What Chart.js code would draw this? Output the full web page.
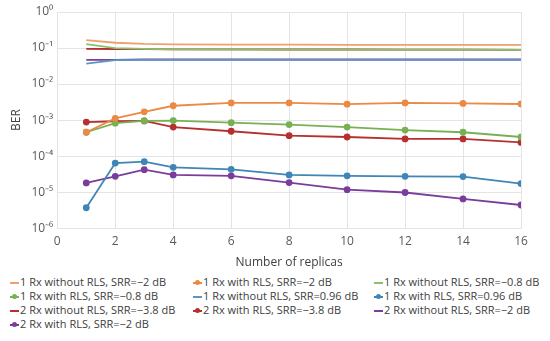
<!DOCTYPE html>
<html>
<head>
<meta charset="utf-8">
<script src="https://cdn.jsdelivr.net/npm/chart.js@4/dist/chart.umd.min.js"></script>
<style>
  html, body { margin: 0; padding: 0; background: #fff; }
  #wrap { position: relative; width: 550px; height: 274px; }
  #legend {
    position: absolute; left: 0; top: 275px; width: 550px;
    font-family: "Open Sans", "Liberation Sans", sans-serif; font-size: 11px; color: #404040;
  }
  .item { position: absolute; white-space: nowrap; height: 14px; line-height: 14px; }
  .sw { position: absolute; left: 0; top: 7px; width: 9px; height: 2px; }
  .dot { position: absolute; left: 2px; top: 5px; width: 5px; height: 5px; border-radius: 50%; }
  .txt { position: absolute; left: 10px; top: 0; }
</style>
</head>
<body>
<div id="wrap"><canvas id="chart"></canvas></div>
<div id="legend"></div>
<script>
// x values
const replicas = [1, 2, 3, 4, 6, 8, 10, 12, 14, 16];

// BER values
const rx1NoRls_m2 = [0.165, 0.14, 0.13, 0.127, 0.125, 0.124, 0.123, 0.123, 0.122, 0.122];
const rx1Rls_m2 = [0.00046, 0.00112, 0.0017, 0.0025, 0.003, 0.003, 0.00277, 0.003, 0.0029, 0.0028];
const rx1NoRls_m08 = [0.128, 0.1, 0.095, 0.092, 0.091, 0.09, 0.09, 0.09, 0.09, 0.089];
const rx1Rls_m08 = [0.00046, 0.00082, 0.00095, 0.00097, 0.00085, 0.00075, 0.00064, 0.00053, 0.00046, 0.00034];
const rx1NoRls_096 = [0.037, 0.046, 0.047, 0.047, 0.047, 0.047, 0.047, 0.047, 0.047, 0.047];
const rx1Rls_096 = [0.0000037, 0.000064, 0.00007, 0.000049, 0.000043, 0.00003, 0.0000285, 0.0000275, 0.000027, 0.0000173];
const rx2NoRls_m38 = [0.095, 0.094, 0.093, 0.092, 0.092, 0.091, 0.091, 0.09, 0.09, 0.089];
const rx2Rls_m38 = [0.00088, 0.00093, 0.00095, 0.00064, 0.00049, 0.00037, 0.00034, 0.0003, 0.0003, 0.00024];
const rx2NoRls_m2 = [0.047, 0.047, 0.048, 0.048, 0.048, 0.048, 0.048, 0.048, 0.048, 0.048];
const rx2Rls_m2 = [0.000018, 0.0000275, 0.000042, 0.00003, 0.0000285, 0.0000185, 0.0000117, 0.0000098, 0.0000065, 0.0000044];

const decades = [1, 1e-1, 1e-2, 1e-3, 1e-4, 1e-5, 1e-6];
const decadeLabels = ['10\u2070', '10\u207B\u00B9', '10\u207B\u00B2', '10\u207B\u00B3', '10\u207B\u2074', '10\u207B\u2075', '10\u207B\u2076'];

const ORANGE = '#ea8a45', LORANGE = '#eda070';
const GREEN = '#78b153', LGREEN = '#8cc06a';
const BLUE = '#3f86b7', LBLUE = '#5b96c4';
const RED = '#b7302f', PURPLE = '#7a3d9c';

function line(label, data, color) {
  return { label, data, borderColor: color, backgroundColor: color, borderWidth: 1.8,
    pointRadius: 0, fill: false, marker: false };
}
function marked(label, data, color) {
  return { label, data, borderColor: color, backgroundColor: color, borderWidth: 1.8,
    pointRadius: 2.5, pointHoverRadius: 2.5, fill: false, marker: true };
}

const datasets = [
  line('1 Rx without RLS, SRR=\u22122 dB', rx1NoRls_m2, LORANGE),
  marked('1 Rx with RLS, SRR=\u22122 dB', rx1Rls_m2, ORANGE),
  line('1 Rx without RLS, SRR=\u22120.8 dB', rx1NoRls_m08, LGREEN),
  marked('1 Rx with RLS, SRR=\u22120.8 dB', rx1Rls_m08, GREEN),
  line('1 Rx without RLS, SRR=0.96 dB', rx1NoRls_096, LBLUE),
  marked('1 Rx with RLS, SRR=0.96 dB', rx1Rls_096, BLUE),
  line('2 Rx without RLS, SRR=\u22123.8 dB', rx2NoRls_m38, RED),
  marked('2 Rx with RLS, SRR=\u22123.8 dB', rx2Rls_m38, RED),
  line('2 Rx without RLS, SRR=\u22122 dB', rx2NoRls_m2, PURPLE),
  marked('2 Rx with RLS, SRR=\u22122 dB', rx2Rls_m2, PURPLE)
];
datasets.forEach(ds => { ds.data = ds.data.map((v, i) => ({ x: replicas[i], y: v })); });

const FONT = "'Open Sans', 'Liberation Sans', sans-serif";

const chart = new Chart(document.getElementById('chart'), {
  type: 'line',
  data: { datasets },
  options: {
    responsive: true,
    maintainAspectRatio: false,
    animation: false,
    layout: { padding: { left: 5, right: 29, top: 12, bottom: 0 } },
    plugins: { legend: { display: false }, tooltip: { enabled: false } },
    scales: {
      x: {
        type: 'linear', min: 0, max: 16,
        ticks: { stepSize: 2, color: '#595959', font: { family: FONT, size: 12 }, padding: 6 },
        grid: { color: '#e4e4e4', drawTicks: false },
        border: { color: '#e4e4e4' },
        title: { display: true, text: 'Number of replicas', color: '#404040',
          font: { family: FONT, size: 12 }, padding: { top: 1 } }
      },
      y: {
        type: 'logarithmic', min: 1e-6, max: 1,
        afterBuildTicks: axis => { axis.ticks = decades.map(v => ({ value: v })); },
        ticks: {
          color: '#595959', font: { family: FONT, size: 12 }, padding: 4,
          callback: v => decadeLabels[decades.findIndex(d => Math.abs(Math.log10(d) - Math.log10(v)) < 1e-6)]
        },
        grid: { color: '#e4e4e4', drawTicks: false },
        border: { color: '#e4e4e4' },
        title: { display: true, text: 'BER', color: '#404040',
          font: { family: FONT, size: 12 }, padding: { bottom: 4 } }
      }
    }
  }
});

// legend in three columns
const legend = document.getElementById('legend');
const colX = [10, 193, 374];
datasets.forEach((ds, i) => {
  const el = document.createElement('div');
  el.className = 'item';
  el.style.left = colX[i % 3] + 'px';
  el.style.top = (Math.floor(i / 3) * 14) + 'px';
  let html = '<span class="sw" style="background:' + ds.borderColor + '"></span>';
  if (ds.marker) html += '<span class="dot" style="background:' + ds.borderColor + '"></span>';
  html += '<span class="txt">' + ds.label + '</span>';
  el.innerHTML = html;
  legend.appendChild(el);
});
</script>
</body>
</html>
